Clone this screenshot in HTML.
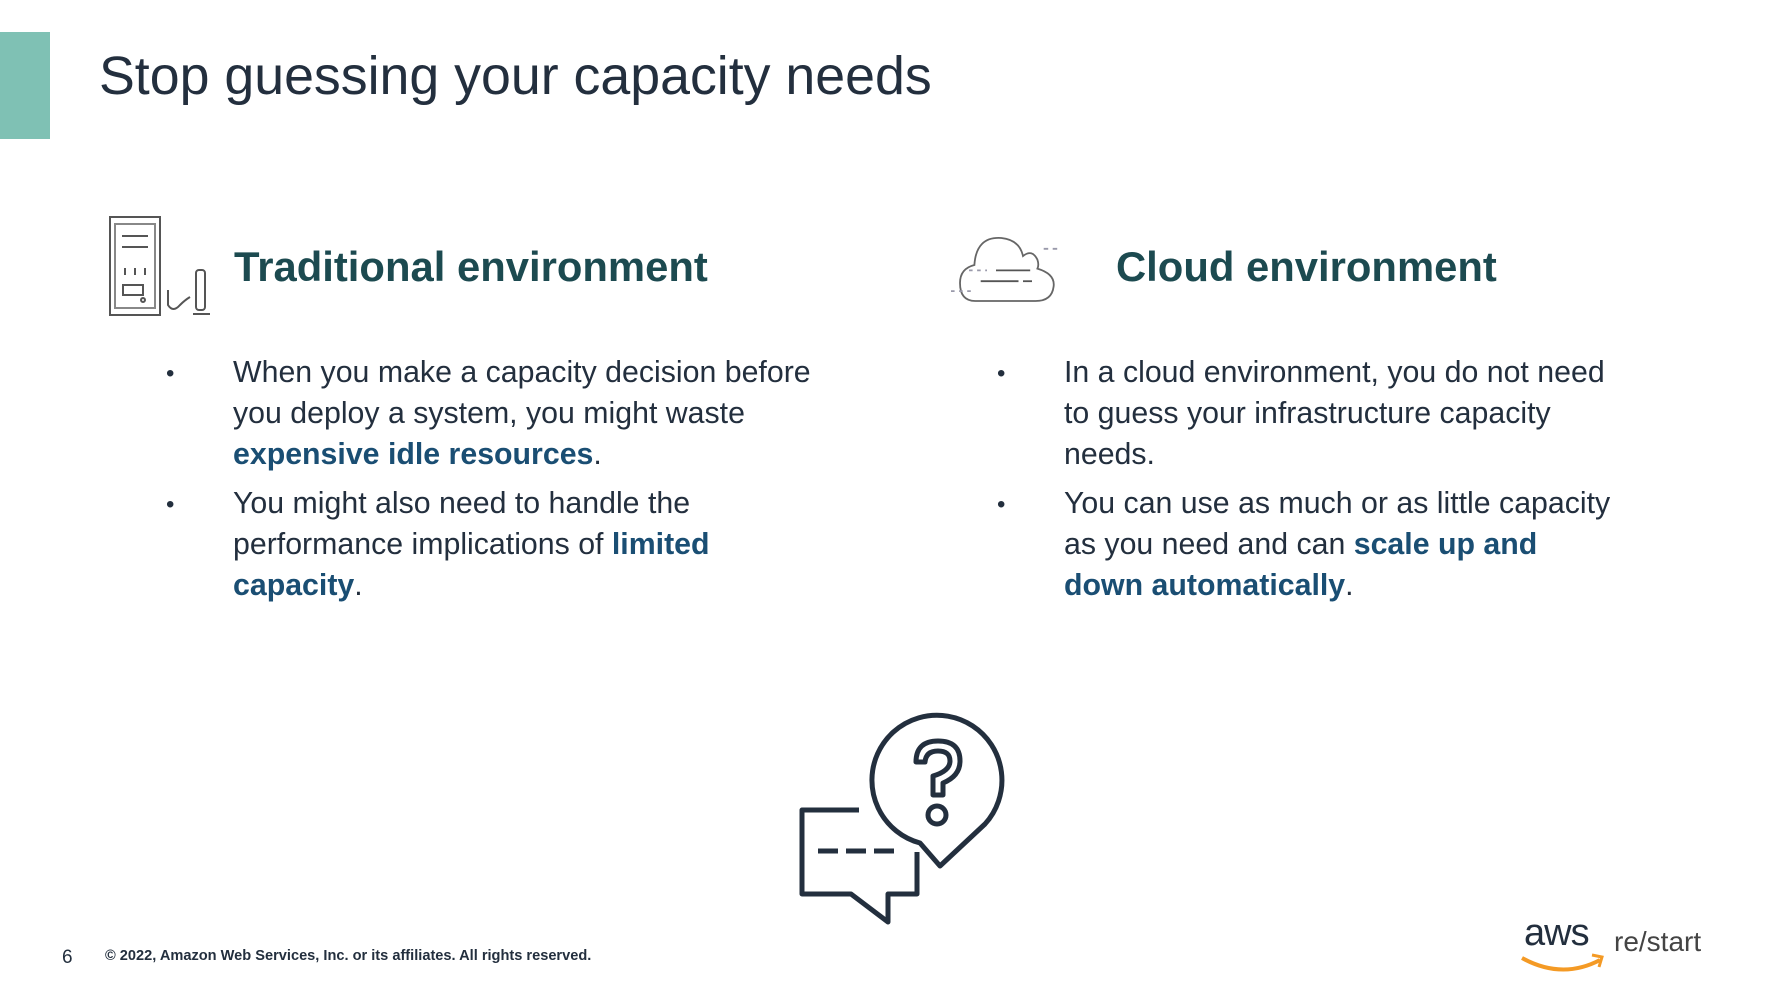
<!DOCTYPE html>
<html><head><meta charset="utf-8"><style>
body{margin:0;width:1792px;height:1003px;background:#fff;position:relative;overflow:hidden;font-family:"Liberation Sans",sans-serif;color:#232f3e}
.a{position:absolute;white-space:nowrap}
.t{font-size:53.7px;color:#232f3e}
.h{font-size:41.8px;font-weight:bold;color:#1c4a50}
.b{font-size:30.3px;line-height:41px;color:#232f3e}
.b b{color:#1a4e73}
.d{font-size:24px}
</style></head><body>
<div class="a" style="left:0;top:32px;width:50px;height:107px;background:#7fc1b4"></div>
<div class="a t" style="left:99px;top:45px">Stop guessing your capacity needs</div>

<svg class="a" style="left:0;top:0" width="1792" height="1003">
<g fill="none" stroke="#555" stroke-width="2">
<rect x="110" y="217" width="50" height="98"/>
<rect x="115" y="224" width="40" height="84" stroke="#888"/>
<line x1="122" y1="236" x2="148" y2="236"/><line x1="122" y1="247" x2="148" y2="247"/>
<line x1="125" y1="268" x2="125" y2="275"/><line x1="135" y1="268" x2="135" y2="275"/><line x1="145" y1="268" x2="145" y2="275"/>
<rect x="123" y="285" width="20" height="10"/><circle cx="143" cy="300" r="2"/>
<rect x="196" y="270" width="9" height="40" rx="3"/><line x1="193" y1="314" x2="210" y2="314"/>
<path d="M168 290 v15 q5 8 12 0 q5 -5 10 -8"/>
<g transform="translate(960,238) scale(0.9) translate(-970,-234)">
<path d="M987 304 q-17 0 -17 -20 q0 -16 16 -20 q2 -32 30 -30 q20 2 24 20 q10 -8 16 4 q2 6 0 10 q20 6 18 20 q-2 16 -20 16 z" stroke="#666"/>
<line x1="993" y1="282" x2="1035" y2="282"/><line x1="1040" y1="282" x2="1050" y2="282"/>
<line x1="1010" y1="270" x2="1048" y2="270"/>
<line x1="1063" y1="246" x2="1080" y2="246" stroke-dasharray="5 5" stroke="#99a"/>
<line x1="960" y1="293" x2="985" y2="293" stroke-dasharray="4 5" stroke="#99a"/>
<line x1="980" y1="270" x2="1000" y2="270" stroke-dasharray="4 5" stroke="#99a"/>
</g>
</g>
<g fill="none" stroke="#232f3e" stroke-width="5" stroke-linejoin="round">
<path d="M859 810 h-57 v84 h49 l37 28 v-28 h29 v-42"/>
<line x1="818" y1="851" x2="898" y2="851" stroke-dasharray="20 8"/>
<path d="M920 843 L940 866 L985 824 A65 65 0 1 0 920 843 Z"/>
<path d="M916 762 q0 -21 22 -21 q22 0 22 20 q0 15 -17 22 v12 h-10 v-19 q17 -5 17 -15 q0 -10 -12 -10 q-12 0 -13 11 z"/>
<circle cx="937" cy="815" r="9"/>
</g>
<path d="M1522 958 q40 22 78 2" fill="none" stroke="#f49a25" stroke-width="4"/>
<path d="M1592 955 l10 2 -3 10" fill="none" stroke="#f49a25" stroke-width="3"/>
</svg>

<div class="a h" style="left:234px;top:243px">Traditional environment</div>
<div class="a h" style="left:1116px;top:243px">Cloud environment</div>

<div class="a b d" style="left:166px;top:353px">•</div>
<div class="a b" style="left:233px;top:352px">When you make a capacity decision before<br>you deploy a system, you might waste<br><b>expensive idle resources</b>.</div>
<div class="a b d" style="left:166px;top:484px">•</div>
<div class="a b" style="left:233px;top:483px">You might also need to handle the<br>performance implications of <b>limited<br>capacity</b>.</div>

<div class="a b d" style="left:997px;top:353px">•</div>
<div class="a b" style="left:1064px;top:352px">In a cloud environment, you do not need<br>to guess your infrastructure capacity<br>needs.</div>
<div class="a b d" style="left:997px;top:484px">•</div>
<div class="a b" style="left:1064px;top:483px">You can use as much or as little capacity<br>as you need and can <b>scale up and<br>down automatically</b>.</div>

<div class="a" style="left:62px;top:947px;font-size:19px">6</div>
<div class="a" style="left:105px;top:948px;font-size:14.6px;font-weight:bold">© 2022, Amazon Web Services, Inc. or its affiliates. All rights reserved.</div>
<div class="a" style="left:1524px;top:912px;font-size:38px;color:#232f3e;letter-spacing:-1px">aws</div>
<div class="a" style="left:1614px;top:926px;font-size:28px;color:#444">re/start</div>
</body></html>
